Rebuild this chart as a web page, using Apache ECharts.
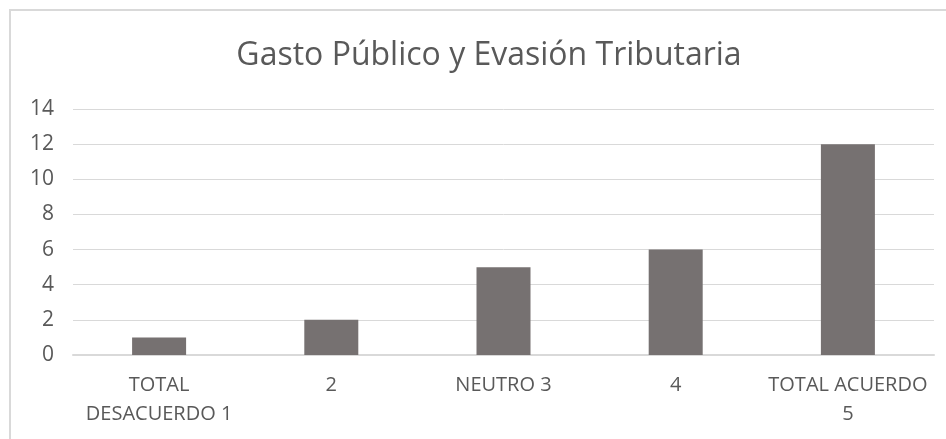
<!DOCTYPE html>
<html>
<head>
<meta charset="utf-8">
<script src="https://cdn.jsdelivr.net/npm/echarts@6/dist/echarts.min.js"></script>
<style>
  html, body { margin: 0; padding: 0; background: #fff; overflow: hidden; }
  #frame { position: absolute; left: 9px; top: 9px; width: 960px; height: 460px; border: 2px solid #d9d9d9; box-sizing: border-box; }
  #chart { position: absolute; left: 0; top: 0; width: 946px; height: 439px; }
</style>
</head>
<body>
<div id="frame"></div>
<div id="chart"></div>
<script>
  var categories = ['TOTAL\nDESACUERDO 1', '2', 'NEUTRO 3', '4', 'TOTAL ACUERDO\n5'];
  var values = [1, 2, 5, 6, 12];
  var yTicks = { min: 0, max: 14, interval: 2 };

  var myChart = echarts.init(document.getElementById('chart'));
  var option = {
    animation: false,
    title: {
      text: 'Gasto Público y Evasión Tributaria',
      left: 484,
      top: 35,
      textAlign: 'center',
      textStyle: { color: '#595959', fontSize: 32, fontWeight: 'normal', fontFamily: 'Open Sans' }
    },
    grid: { left: 73, right: 12, top: 109, bottom: 84 },
    xAxis: {
      type: 'category',
      data: categories,
      axisLine: { show: true, lineStyle: { color: '#d9d9d9', width: 2 } },
      axisTick: { show: false },
      axisLabel: {
        color: '#595959', fontSize: 20, fontFamily: 'Open Sans', lineHeight: 29, margin: 16, interval: 0
      }
    },
    yAxis: {
      type: 'value',
      min: yTicks.min,
      max: yTicks.max,
      interval: yTicks.interval,
      axisLine: { show: false },
      axisTick: { show: false },
      splitLine: { lineStyle: { color: '#d9d9d9', width: 1 } },
      axisLabel: { color: '#595959', fontSize: 21, fontFamily: 'Open Sans', margin: 19 }
    },
    series: [{
      type: 'bar',
      data: values,
      barWidth: 54,
      itemStyle: { color: '#767171' }
    }]
  };
  myChart.setOption(option);
</script>
</body>
</html>
